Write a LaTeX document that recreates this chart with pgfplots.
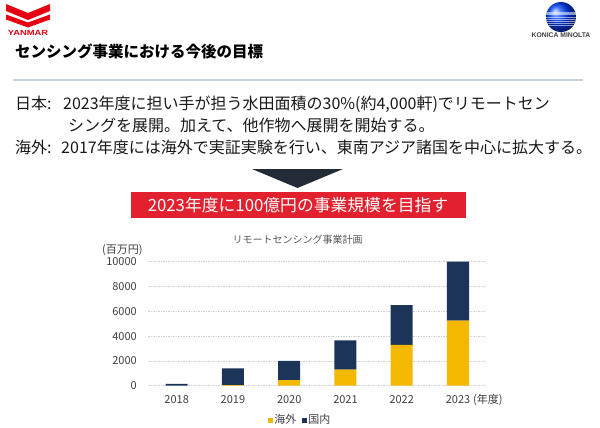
\documentclass[border=0pt]{standalone}
\usepackage{fontspec}
\setmainfont{Noto Sans CJK JP}
\newfontfamily\latinbold{Liberation Sans}
\usepackage{pgfplots}
\pgfplotsset{compat=1.18}
\definecolor{ovs}{HTML}{F4B800}
\definecolor{dom}{HTML}{1C3458}
\definecolor{ymred}{HTML}{E60012}
\definecolor{boxred}{HTML}{E2202E}
\definecolor{txtgray}{HTML}{404040}
\definecolor{tri}{HTML}{232C36}
\newcommand{\fs}[1]{\fontsize{#1}{#1}\selectfont}
\begin{document}
\begin{tikzpicture}
\path[use as bounding box, fill=white] (0pt,0pt) rectangle (600pt,-428pt);
% YANMAR logo
\fill[ymred] (6pt,-4pt) -- (28pt,-13pt) -- (50pt,-4pt) -- (50pt,-11pt) -- (28pt,-20pt) -- (6pt,-11pt) -- cycle;
\fill[ymred] (6pt,-14.5pt) -- (28pt,-22.5pt) -- (50pt,-14.5pt) -- (50pt,-19.5pt) -- (28pt,-27.5pt) -- (6pt,-19.5pt) -- cycle;
\node[anchor=center, text=ymred, inner sep=0pt, xscale=1.25] at (28pt,-33pt) {\latinbold\bfseries\fs{7.5}YANMAR};
% Konica Minolta logo
\shade[ball color=blue!75!cyan] (561pt,-17pt) circle (15pt);
\begin{scope}
\clip (561pt,-17pt) circle (15pt);
\foreach \yy/\th in {-13/1.2,-15/1.0,-17/0.9,-19/0.8,-21/0.7,-23/0.6,-25/0.5}{
  \draw[white, opacity=0.55, line width=\th pt] (540pt,\yy pt) -- (582pt,\yy pt);}
\end{scope}
\node[anchor=center, text=txtgray, inner sep=0pt] at (561pt,-35pt) {\latinbold\bfseries\fs{6.8}KONICA MINOLTA};
% title
\node[anchor=west, inner sep=0pt] at (15pt,-51.5pt) {\bfseries\fs{15.5}センシング事業における今後の目標};
\draw[color={rgb,255:red,200;green,208;blue,216}, line width=1.8pt] (13pt,-80pt) -- (583pt,-80pt);
% body text
\node[anchor=west, inner sep=0pt, text={rgb,255:red,25;green,25;blue,25}] at (15pt,-104.5pt) {\fs{16}日本:\hspace{0.72em}2023年度に担い手が担う水田面積の30\%(約4,000軒)でリモートセン};
\node[anchor=west, inner sep=0pt, text={rgb,255:red,25;green,25;blue,25}] at (68pt,-125pt) {\fs{16}シングを展開。加えて、他作物へ展開を開始する。};
\node[anchor=west, inner sep=0pt, text={rgb,255:red,25;green,25;blue,25}] at (15pt,-147.5pt) {\fs{16}海外:\hspace{0.6em}2017年度には海外で実証実験を行い、東南アジア諸国を中心に拡大する。};
% arrow and red box
\fill[tri] (252pt,-169pt) -- (343pt,-169pt) -- (297.5pt,-188pt) -- cycle;
\fill[boxred] (131pt,-192pt) rectangle (466pt,-218pt);
\node[anchor=center, text=white, inner sep=0pt] at (298pt,-205pt) {\fs{16.8}2023年度に100億円の事業規模を目指す};
% chart texts
\node[anchor=center, text={rgb,255:red,89;green,89;blue,89}, inner sep=0pt] at (297.5pt,-240pt) {\fs{10}リモートセンシング事業計画};
\node[anchor=west, text=txtgray, inner sep=0pt] at (102pt,-250pt) {\fs{11}(百万円)};
\node[anchor=west, text=txtgray, inner sep=0pt] at (473pt,-400pt) {\fs{11}(年度)};
\begin{axis}[
  at={(148pt,-385.7pt)}, anchor=south west,
  scale only axis, width=337pt, height=124pt,
  xmin=-0.51, xmax=5.48, ymin=0, ymax=10000,
  ybar stacked, bar width=22pt,
  axis line style={draw=none}, major tick length=0pt,
  xtick={0,1,2,3,4,5}, xticklabels={2018,2019,2020,2021,2022,2023},
  ytick={0,2000,4000,6000,8000,10000},
  scaled y ticks=false,
  yticklabel={\pgfmathprintnumber[fixed,precision=0,1000 sep={}]{\tick}},
  /pgf/number format/assume math mode=true,
  ticklabel style={font=\fs{11}, text=txtgray, inner sep=0pt},
  xticklabel style={anchor=center, yshift=-14.3pt},
  yticklabel style={anchor=east, xshift=-11pt},
  ymajorgrids, grid style={gray!35, dash pattern=on 1.5pt off 1pt, line width=0.5pt},
  legend style={at={(0.451,-0.277)}, anchor=center, legend columns=2, draw=none, fill=none,
    font=\fs{11}, text=txtgray, nodes={inner sep=1.5pt},
    /tikz/every even column/.append style={column sep=4pt}},
  legend image code/.code={\fill[#1] (0pt,-2.5pt) rectangle (5pt,2.5pt);},
]
\addplot[fill=ovs, draw=none] coordinates {(0,0) (1,50) (2,450) (3,1300) (4,3300) (5,5250)};
\addplot[fill=dom, draw=none] coordinates {(0,150) (1,1350) (2,1550) (3,2350) (4,3200) (5,4750)};
\legend{海外,国内}
\end{axis}
\end{tikzpicture}
\end{document}
